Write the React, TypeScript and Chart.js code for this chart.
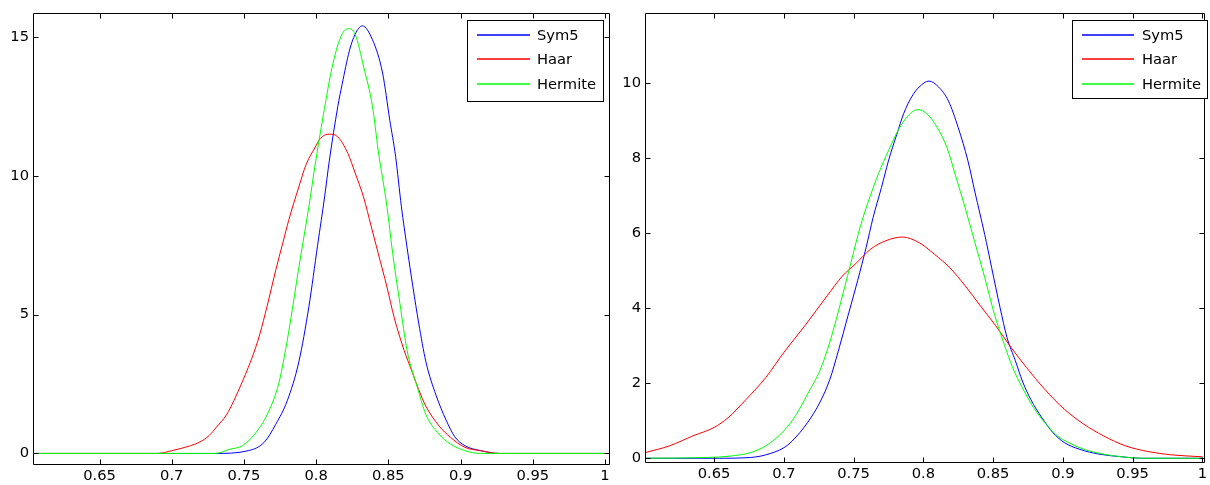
import React, { useEffect, useRef } from "react";
import { Chart, registerables } from "chart.js";

Chart.register(...registerables);

// ---------- shared ----------
const seriesNames = ["Sym5", "Haar", "Hermite"];
const seriesColors = ["#0000ff", "#ff0000", "#00ff00"];

const xTickValues = [0.65, 0.7, 0.75, 0.8, 0.85, 0.9, 0.95, 1];
const xTickLabels = ["0.65", "0.7", "0.75", "0.8", "0.85", "0.9", "0.95", "1"];

// ---------- left panel ----------
const leftYTicks = [0, 5, 10, 15];
const leftYTickLabels = ["0", "5", "10", "15"];

const leftSym5X = [0.604, 0.73, 0.753, 0.764, 0.772, 0.78, 0.788, 0.795, 0.801, 0.806, 0.809, 0.815, 0.818, 0.823, 0.827, 0.832, 0.839, 0.846, 0.851, 0.855, 0.859, 0.863, 0.867, 0.871, 0.876, 0.883, 0.89, 0.896, 0.903, 0.914, 0.927, 1.0];
const leftSym5Y = [0, 0, 0.1, 0.4, 1.05, 1.9, 3.3, 5.3, 7.5, 9.3, 10.5, 12.5, 13.3, 14.5, 15.1, 15.4, 14.9, 13.7, 12.0, 10.7, 8.9, 7.4, 6.0, 4.7, 3.3, 2.1, 1.2, 0.6, 0.28, 0.1, 0, 0];

const leftHaarX = [0.604, 0.69, 0.7, 0.713, 0.719, 0.726, 0.731, 0.738, 0.743, 0.749, 0.753, 0.758, 0.761, 0.766, 0.772, 0.777, 0.781, 0.788, 0.793, 0.799, 0.803, 0.809, 0.815, 0.822, 0.827, 0.833, 0.838, 0.843, 0.849, 0.854, 0.861, 0.866, 0.871, 0.876, 0.885, 0.893, 0.903, 0.914, 0.927, 1.0];
const leftHaarY = [0, 0, 0.1, 0.28, 0.4, 0.65, 0.95, 1.4, 1.9, 2.6, 3.1, 3.8, 4.3, 5.3, 6.6, 7.6, 8.4, 9.6, 10.4, 11.0, 11.35, 11.5, 11.4, 10.8, 10.1, 9.2, 8.2, 7.2, 6.0, 4.9, 3.7, 3.0, 2.3, 1.7, 1.0, 0.58, 0.22, 0.1, 0, 0];

const leftHermiteX = [0.604, 0.73, 0.74, 0.749, 0.759, 0.767, 0.774, 0.778, 0.782, 0.788, 0.795, 0.799, 0.805, 0.811, 0.817, 0.822, 0.827, 0.833, 0.839, 0.843, 0.849, 0.853, 0.858, 0.863, 0.87, 0.876, 0.885, 0.893, 0.903, 0.914, 1.0];
const leftHermiteY = [0, 0, 0.15, 0.28, 0.8, 1.5, 2.5, 3.5, 4.7, 6.7, 8.9, 10.3, 12.2, 13.9, 15.0, 15.3, 15.1, 13.9, 12.5, 10.9, 8.9, 7.2, 5.4, 3.7, 2.4, 1.4, 0.7, 0.34, 0.1, 0, 0];

// ---------- right panel ----------
const rightYTicks = [0, 2, 4, 6, 8, 10];
const rightYTickLabels = ["0", "2", "4", "6", "8", "10"];

const rightSym5X = [0.6005, 0.654, 0.676, 0.687, 0.7, 0.706, 0.717, 0.726, 0.733, 0.739, 0.746, 0.753, 0.759, 0.764, 0.77, 0.775, 0.781, 0.786, 0.792, 0.797, 0.804, 0.811, 0.818, 0.825, 0.832, 0.837, 0.844, 0.849, 0.855, 0.86, 0.866, 0.871, 0.877, 0.885, 0.893, 0.901, 0.912, 0.926, 0.942, 0.956, 1.0];
const rightSym5Y = [0, 0, 0.02, 0.09, 0.28, 0.46, 0.95, 1.5, 2.1, 2.85, 3.8, 4.75, 5.62, 6.42, 7.22, 7.93, 8.64, 9.2, 9.66, 9.9, 10.06, 9.9, 9.53, 8.82, 7.93, 7.1, 5.97, 5.08, 4.02, 3.22, 2.6, 2.06, 1.57, 1.08, 0.68, 0.42, 0.24, 0.11, 0.04, 0, 0];

const rightHaarX = [0.6005, 0.618, 0.635, 0.65, 0.66, 0.673, 0.687, 0.7, 0.715, 0.731, 0.742, 0.751, 0.762, 0.773, 0.785, 0.797, 0.808, 0.819, 0.83, 0.841, 0.852, 0.863, 0.874, 0.887, 0.901, 0.915, 0.929, 0.945, 0.961, 0.978, 1.0];
const rightHaarY = [0.15, 0.33, 0.6, 0.82, 1.08, 1.57, 2.15, 2.82, 3.53, 4.33, 4.86, 5.17, 5.57, 5.8, 5.9, 5.75, 5.44, 5.08, 4.6, 4.06, 3.53, 2.95, 2.42, 1.84, 1.31, 0.91, 0.6, 0.33, 0.18, 0.09, 0.04];

const rightHermiteX = [0.6005, 0.645, 0.662, 0.676, 0.687, 0.7, 0.709, 0.717, 0.726, 0.733, 0.739, 0.748, 0.755, 0.762, 0.768, 0.775, 0.782, 0.789, 0.796, 0.803, 0.81, 0.817, 0.823, 0.83, 0.837, 0.844, 0.851, 0.858, 0.864, 0.871, 0.879, 0.888, 0.896, 0.904, 0.915, 0.929, 0.942, 0.956, 1.0];
const rightHermiteY = [0, 0.02, 0.06, 0.15, 0.33, 0.73, 1.17, 1.71, 2.35, 3.1, 3.9, 5.2, 6.2, 7.0, 7.6, 8.2, 8.75, 9.13, 9.3, 9.17, 8.82, 8.28, 7.55, 6.68, 5.75, 4.82, 3.84, 3.04, 2.42, 1.88, 1.35, 0.91, 0.6, 0.42, 0.24, 0.11, 0.04, 0, 0];

const FONT_FAMILY = "'DejaVu Sans', 'Liberation Sans', Arial, sans-serif";
const FONT_SIZE = 14.7;
const CANVAS_H = 485;

type PanelSpec = {
  canvasLeft: number;
  canvasWidth: number;
  area: { left: number; right: number; top: number; bottom: number };
  xMin: number;
  xMax: number;
  yMin: number;
  yMax: number;
  yTicks: number[];
  yTickLabels: string[];
  series: { x: number[]; y: number[] }[];
  legend: { left: number; top: number; width: number; height: number; lineX0: number; lineX1: number; textX: number; rows: number[] };
};

const framePlugin = {
  id: "matlabFrame",
  afterDatasetsDraw(chart: any, _args: any, opts: any) {
    const { ctx, chartArea: a, scales } = chart;
    ctx.save();
    ctx.strokeStyle = "#000";
    ctx.lineWidth = 1;
    const L = Math.round(a.left) + 0.5;
    const R = Math.round(a.right) + 0.5;
    const T = Math.round(a.top) + 0.5;
    const B = Math.round(a.bottom) + 0.5;
    ctx.beginPath();
    ctx.rect(L, T, R - L, B - T);
    ctx.stroke();
    const tl = 5;
    ctx.beginPath();
    for (const t of scales.x.ticks) {
      const px = Math.round(scales.x.getPixelForValue(t.value)) + 0.5;
      ctx.moveTo(px, B);
      ctx.lineTo(px, B - tl);
      ctx.moveTo(px, T);
      ctx.lineTo(px, T + tl);
    }
    for (const t of scales.y.ticks) {
      const py = Math.round(scales.y.getPixelForValue(t.value)) + 0.5;
      ctx.moveTo(L, py);
      ctx.lineTo(L + tl, py);
      ctx.moveTo(R, py);
      ctx.lineTo(R - tl, py);
    }
    ctx.stroke();

    // legend box
    const lg = opts.legend;
    if (lg) {
      const bx = lg.left + 0.5;
      const by = lg.top + 0.5;
      ctx.fillStyle = "#fff";
      ctx.fillRect(bx, by, lg.width, lg.height);
      ctx.strokeStyle = "#000";
      ctx.lineWidth = 1;
      ctx.strokeRect(bx, by, lg.width, lg.height);
      ctx.font = `${FONT_SIZE}px ${FONT_FAMILY}`;
      ctx.textBaseline = "middle";
      ctx.textAlign = "left";
      chart.data.datasets.forEach((ds: any, i: number) => {
        const y = lg.rows[i];
        ctx.save();
        ctx.strokeStyle = seriesColors[i];
        ctx.lineWidth = 1.3;
        ctx.beginPath();
        ctx.moveTo(lg.lineX0, y);
        ctx.lineTo(lg.lineX1, y);
        ctx.stroke();
        ctx.restore();
        ctx.fillStyle = "#000";
        ctx.fillText(ds.label, lg.textX, y + 1);
      });
    }
    ctx.restore();
  },
};

function makeConfig(p: PanelSpec): any {
  const font = { family: FONT_FAMILY, size: FONT_SIZE };
  return {
    type: "line",
    data: {
      datasets: p.series.map((s, i) => ({
        label: seriesNames[i],
        data: s.x.map((x, j) => ({ x, y: s.y[j] })),
        borderColor: seriesColors[i],
        backgroundColor: seriesColors[i],
        borderWidth: 1,
        pointRadius: 0,
        fill: false,
        cubicInterpolationMode: "monotone",
        order: 2 - i,
      })),
    },
    options: {
      responsive: false,
      animation: false,
      devicePixelRatio: 1,
      layout: {
        padding: { top: p.area.top, right: p.canvasWidth - p.area.right, left: 0, bottom: 0 },
      },
      plugins: {
        legend: { display: false },
        tooltip: { enabled: false },
        matlabFrame: { legend: p.legend },
      },
      scales: {
        x: {
          type: "linear",
          min: p.xMin,
          max: p.xMax,
          grid: { display: false, drawTicks: false },
          border: { display: false },
          ticks: {
            font,
            color: "#000",
            padding: 3,
            maxRotation: 0,
            autoSkip: false,
            callback: (_v: any, i: number) => xTickLabels[i],
          },
          afterBuildTicks: (s: any) => {
            s.ticks = xTickValues.map((v) => ({ value: v }));
          },
          afterFit: (s: any) => {
            s.height = CANVAS_H - p.area.bottom;
          },
        },
        y: {
          type: "linear",
          min: p.yMin,
          max: p.yMax,
          grid: { display: false, drawTicks: false },
          border: { display: false },
          ticks: {
            font,
            color: "#000",
            padding: 4,
            autoSkip: false,
            callback: (_v: any, i: number) => p.yTickLabels[i],
          },
          afterBuildTicks: (s: any) => {
            s.ticks = p.yTicks.map((v) => ({ value: v }));
          },
          afterFit: (s: any) => {
            s.width = p.area.left;
          },
        },
      },
    },
    plugins: [framePlugin],
  };
}

const leftSpec: PanelSpec = {
  canvasLeft: 0,
  canvasWidth: 615,
  area: { left: 33, right: 609, top: 11, bottom: 464 },
  xMin: 0.6039,
  xMax: 1.0028,
  yMin: -0.38,
  yMax: 15.87,
  yTicks: leftYTicks,
  yTickLabels: leftYTickLabels,
  series: [
    { x: leftSym5X, y: leftSym5Y },
    { x: leftHaarX, y: leftHaarY },
    { x: leftHermiteX, y: leftHermiteY },
  ],
  legend: { left: 467, top: 20, width: 136, height: 81, lineX0: 477, lineX1: 530, textX: 537, rows: [35, 59, 84] },
};

const rightSpec: PanelSpec = {
  canvasLeft: 615,
  canvasWidth: 595,
  area: { left: 30, right: 593, top: 12, bottom: 462 },
  xMin: 0.6005,
  xMax: 1.0014,
  yMin: -0.1,
  yMax: 11.88,
  yTicks: rightYTicks,
  yTickLabels: rightYTickLabels,
  series: [
    { x: rightSym5X, y: rightSym5Y },
    { x: rightHaarX, y: rightHaarY },
    { x: rightHermiteX, y: rightHermiteY },
  ],
  legend: { left: 457, top: 20, width: 135, height: 78, lineX0: 467, lineX1: 519, textX: 527, rows: [35, 59, 84] },
};

function Panel({ spec }: { spec: PanelSpec }) {
  const ref = useRef<HTMLCanvasElement>(null);
  useEffect(() => {
    if (!ref.current) return;
    const chart = new Chart(ref.current, makeConfig(spec));
    return () => chart.destroy();
  }, [spec]);
  return (
    <canvas
      ref={ref}
      width={spec.canvasWidth}
      height={CANVAS_H}
      style={{ position: "absolute", left: spec.canvasLeft, top: 0, width: spec.canvasWidth, height: CANVAS_H }}
    />
  );
}

export default function App() {
  return (
    <div style={{ position: "absolute", left: 0, top: 0, width: 1210, height: CANVAS_H, background: "#fff", overflow: "hidden" }}>
      <Panel spec={leftSpec} />
      <Panel spec={rightSpec} />
    </div>
  );
}
